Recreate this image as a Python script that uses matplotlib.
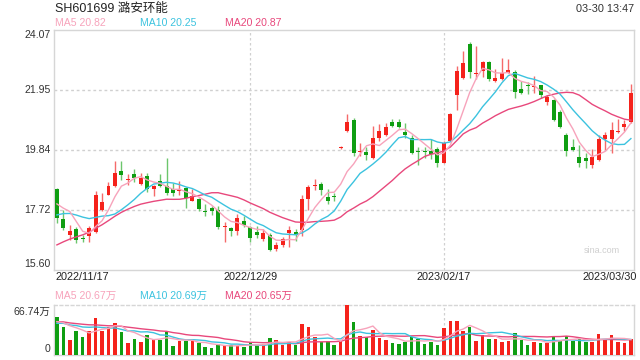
import numpy as np
import matplotlib
matplotlib.use('Agg')
import matplotlib.pyplot as plt
import pandas as pd

plt.rcParams['font.family'] = ['Liberation Sans', 'Noto Sans CJK SC', 'DejaVu Sans']

# ---------------- data ----------------
opens = [18.43,17.37,16.83,17.02,16.69,16.77,16.92,17.69,18.25,18.56,
         19.07,18.76,18.98,18.63,18.90,18.46,18.72,18.56,18.45,18.37,
         18.48,18.03,18.08,17.65,17.76,17.69,17.12,17.07,16.95,17.33,
         17.10,16.92,16.67,16.83,16.32,16.48,16.88,16.94,17.00,18.08,
         18.54,18.63,18.16,18.17,19.91,20.51,20.88,19.75,19.75,19.56,
         20.24,20.37,20.82,20.80,20.48,20.26,19.76,19.76,19.79,19.85,
         19.37,20.16,21.77,22.36,23.57,22.50,22.63,22.93,22.25,22.32,
         22.55,22.60,21.99,22.10,22.06,22.11,21.51,21.59,21.18,20.35,
         19.94,19.59,19.56,19.29,19.47,20.20,20.22,20.48,20.63,20.82]
highs = [18.49,17.72,17.18,17.11,16.83,17.14,18.37,18.29,18.68,19.43,
         19.43,18.98,19.16,19.01,19.03,18.60,18.96,19.55,18.66,18.72,
         18.53,18.45,18.12,17.90,17.86,17.86,17.27,17.10,17.57,17.48,
         17.14,17.14,17.02,16.88,16.58,16.75,17.14,17.04,18.25,18.60,
         18.81,18.68,18.44,18.29,19.98,21.11,20.97,20.09,19.92,20.68,
         20.74,20.78,20.92,20.94,20.78,20.37,19.92,19.92,20.20,19.92,
         20.16,21.15,22.78,23.32,23.64,23.52,22.97,22.99,22.69,23.09,
         23.04,22.65,22.28,22.22,22.45,22.14,21.76,21.63,21.25,20.41,
         20.20,19.99,19.71,19.87,20.37,20.45,20.82,20.93,20.87,22.16]
lows = [17.24,16.99,16.64,16.52,16.58,16.58,16.88,17.67,18.22,18.53,
        18.78,18.60,18.68,18.60,18.33,18.21,18.53,18.25,18.21,18.25,
        17.78,18.01,17.66,17.48,17.52,17.03,16.58,16.77,16.83,17.10,
        16.58,16.71,16.62,16.26,16.26,16.41,16.41,16.62,16.77,17.72,
        18.40,18.25,17.90,18.01,19.86,20.48,19.60,19.60,19.48,19.52,
        20.16,20.33,20.63,20.61,20.26,19.69,19.28,19.56,19.52,19.24,
        19.35,20.14,21.23,22.32,22.36,22.32,22.40,22.26,22.22,22.30,
        22.54,21.68,21.80,21.80,21.83,21.68,21.43,20.86,20.61,19.63,
        19.79,19.23,19.19,19.19,19.44,19.83,19.73,20.41,20.49,20.79]
closes = [17.43,17.07,16.95,16.64,16.67,17.07,18.25,17.99,18.56,19.01,
          18.93,18.80,18.84,18.84,18.43,18.56,18.56,18.31,18.31,18.45,
          18.12,18.21,17.74,17.63,17.68,17.10,17.14,16.95,17.43,17.18,
          16.71,16.83,16.88,16.29,16.48,16.67,17.00,16.81,18.08,18.51,
          18.57,18.40,18.04,18.15,19.93,20.80,19.73,19.78,19.64,20.26,
          20.51,20.63,20.68,20.63,20.37,19.73,19.74,19.74,19.69,19.37,
          20.09,21.09,22.63,22.89,22.59,22.54,22.93,22.34,22.38,22.54,
          22.65,21.87,21.83,22.08,22.09,21.76,21.71,20.88,20.65,19.79,
          19.83,19.35,19.42,19.57,20.20,20.34,20.52,20.51,20.73,21.83]
volumes = [51.2,37.8,20.0,32.5,24.5,32.5,49.8,32.5,37.8,43.2,
           31.2,16.5,21.8,17.8,26.7,20.0,20.0,30.3,12.0,18.7,
           18.7,18.7,16.5,11.1,9.3,14.2,12.5,13.4,12.5,11.1,
           16.9,13.4,14.2,22.3,20.0,13.4,17.8,13.4,41.4,36.9,
           23.6,17.8,19.1,13.4,18.7,66.74,44.1,25.4,23.6,33.4,
           23.1,20.0,16.5,14.7,17.8,24.5,21.8,14.7,17.8,13.4,
           36.0,45.8,45.8,32.5,37.8,18.7,26.7,21.4,21.4,17.8,
           18.7,28.9,20.0,13.4,17.8,16.5,16.5,24.5,19.1,25.4,
           18.7,21.4,17.8,17.8,28.0,21.4,26.7,17.8,16.5,20.9]
# closes / volumes before the visible window (estimated from where MA lines start)
prior_closes = [14.9,15.0,15.1,15.2,15.3,15.4,15.5,15.6,15.9,16.2,
                16.6,16.9,17.2,17.4,17.6,17.82,17.55,18.39,18.41]
prior_volumes = [44,48,50,42,47,52,45,49,44,46,38,42,40,44,36.5,45,40,46,40.3]

date_labels = ['2022/11/17', '2022/12/29', '2023/02/17', '2023/03/30']
date_index = [0, 30, 60, 89]
price_ticks = [15.60, 17.72, 19.84, 21.95, 24.07]
vol_max = 66.74
title = 'SH601699 潞安环能'
timestamp = '03-30 13:47'
ma_labels = ['MA5 20.82', 'MA10 20.25', 'MA20 20.87']
vol_ma_labels = ['MA5 20.67万', 'MA10 20.69万', 'MA20 20.65万']
vol_tick_labels = ['66.74万', '0']

# ---------------- style ----------------
RED = '#f5221b'
GREEN = '#0f9e12'
RED_W = '#f56a6a'
GREEN_W = '#6cc66c'
C_MA5 = '#f7a3bb'
C_MA10 = '#3cc3df'
C_MA20 = '#e8487c'
FRAME = '#d6d6d6'
GRID = '#d0d0d0'
W, H = 640, 360

n = len(closes)
x = np.arange(n)
o = np.array(opens); c = np.array(closes); hi = np.array(highs); lo = np.array(lows)
up = c >= o
np_ = len(prior_closes)
cs = pd.Series(prior_closes + closes)
vs = pd.Series(prior_volumes + volumes)
ma = {k: cs.rolling(k).mean().values[np_:] for k in (5, 10, 20)}
vma = {k: vs.rolling(k).mean().values[len(prior_volumes):] for k in (5, 10, 20)}

fig = plt.figure(figsize=(6.4, 3.6), dpi=100)
L, R = 54, 633.5
ax = fig.add_axes([L / W, 1 - 269.5 / H, (R - L) / W, (269.5 - 30) / H])
axv = fig.add_axes([L / W, 1 - 355 / H, (R - L) / W, 50 / H])

xlim = (-0.45, n - 1 + 0.4)
for a in (ax, axv):
    a.set_xlim(*xlim)
    a.set_xticks([]); a.set_yticks([])
    for s in a.spines.values():
        s.set_color(FRAME); s.set_linewidth(1.0)
    for i in date_index[1:3]:
        a.axvline(i, color=GRID, lw=0.9, ls=(0, (2, 2)), zorder=0)

ax.set_ylim(price_ticks[0], price_ticks[-1])
for t in price_ticks[1:-1]:
    ax.axhline(t, color=GRID, lw=1.0, ls=(0, (2, 2)), zorder=0)

# candles
bw = 0.62
body_bottom = np.minimum(o, c)
body_h = np.maximum(np.abs(c - o), 0.035)
ax.vlines(x[up], lo[up], hi[up], color=RED_W, lw=1.0, zorder=2)
ax.vlines(x[~up], lo[~up], hi[~up], color=GREEN_W, lw=1.0, zorder=2)
ax.bar(x[up], body_h[up], bottom=body_bottom[up], width=bw, color=RED, lw=0, zorder=3)
ax.bar(x[~up], body_h[~up], bottom=body_bottom[~up], width=bw, color=GREEN, lw=0, zorder=3)
ax.plot(x, ma[20], color=C_MA20, lw=1.0, zorder=4)
ax.plot(x, ma[10], color=C_MA10, lw=1.0, zorder=4)
ax.plot(x, ma[5], color=C_MA5, lw=1.0, zorder=4)

ax.text(0.945, 0.08, 'sina.com', transform=ax.transAxes, color='#cfcfcf', fontsize=6.5,
        ha='center', va='center')

# volume
vol = np.array(volumes)
axv.set_ylim(0, vol_max)
axv.spines['top'].set_linestyle((0, (2, 2)))
axv.bar(x[up], vol[up], width=0.55, color=RED, lw=0, zorder=3)
axv.bar(x[~up], vol[~up], width=0.55, color=GREEN, lw=0, zorder=3)
axv.plot(x, vma[20], color=C_MA20, lw=1.0, zorder=4)
axv.plot(x, vma[10], color=C_MA10, lw=1.0, zorder=4)
axv.plot(x, vma[5], color=C_MA5, lw=1.0, zorder=4)

# ---------------- texts ----------------
def ftext(px, py, s, **kw):
    fig.text(px / W, 1 - py / H, s, **kw)

ftext(55, 8.5, title, fontsize=9, color='#222222', va='center', ha='left')
ftext(634, 8.5, timestamp, fontsize=7.8, color='#333333', va='center', ha='right')
for px, s, col in zip((55, 140, 225), ma_labels, (C_MA5, C_MA10, C_MA20)):
    ftext(px, 22.5, s, fontsize=7.6, color=col, va='center', ha='left')
for px, s, col in zip((55, 140, 225), vol_ma_labels, (C_MA5, C_MA10, C_MA20)):
    ftext(px, 296, s, fontsize=7.6, color=col, va='center', ha='left')

# price tick labels
for t in price_ticks:
    ypix = 269.5 - (t - price_ticks[0]) / (price_ticks[-1] - price_ticks[0]) * 239.5
    if t == price_ticks[-1]:
        ypix += 5
    elif t == price_ticks[0]:
        ypix -= 5.5
    ftext(50.5, ypix, f'{t:.2f}', fontsize=7.6, color='#333333', va='center', ha='right')

# date labels
for i, s in zip(date_index, date_labels):
    xpix = L + (i - xlim[0]) / (xlim[1] - xlim[0]) * (R - L)
    ha = 'center'
    if i == date_index[0]:
        xpix, ha = 55, 'left'
    elif i == date_index[-1]:
        xpix, ha = 637, 'right'
    ftext(xpix, 276.5, s, fontsize=7.8, color='#222222', va='center', ha=ha)

ftext(50.5, 311.5, vol_tick_labels[0], fontsize=7.6, color='#333333', va='center', ha='right')
ftext(50.5, 348.5, vol_tick_labels[1], fontsize=7.6, color='#333333', va='center', ha='right')

fig.savefig('out.png', dpi=100)
